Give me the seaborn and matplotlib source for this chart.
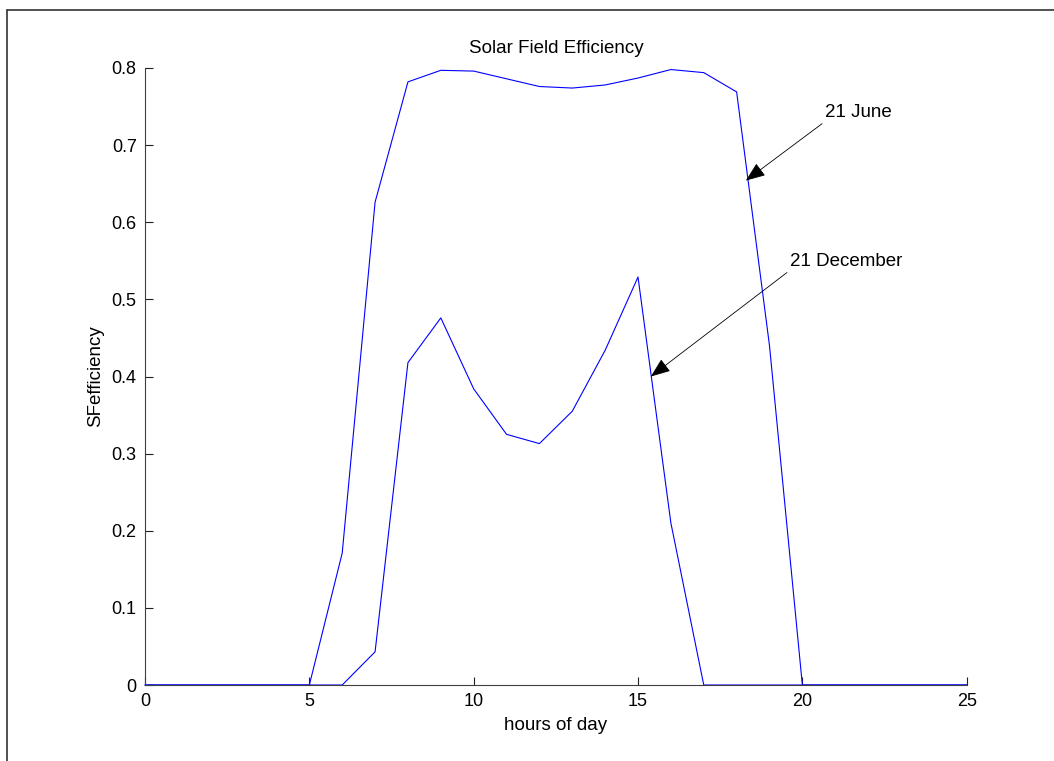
import matplotlib
matplotlib.use("Agg")
import matplotlib.pyplot as plt
from matplotlib.lines import Line2D
import seaborn as sns
import pandas as pd

hours = list(range(0, 26))
june = [0, 0, 0, 0, 0, 0, 0.171, 0.626, 0.782, 0.797, 0.796, 0.786, 0.776, 0.774,
        0.778, 0.787, 0.798, 0.794, 0.769, 0.44, 0, 0, 0, 0, 0, 0]
december = [0, 0, 0, 0, 0, 0, 0, 0.043, 0.418, 0.476, 0.384, 0.325, 0.313, 0.355,
            0.434, 0.529, 0.21, 0, 0, 0, 0, 0, 0, 0, 0, 0]
xticks = [0, 5, 10, 15, 20, 25]
yticks = [0, 0.1, 0.2, 0.3, 0.4, 0.5, 0.6, 0.7, 0.8]
ytick_labels = ["0", "0.1", "0.2", "0.3", "0.4", "0.5", "0.6", "0.7", "0.8"]

sns.set_style("white")
plt.rcParams["font.family"] = ["Liberation Sans", "DejaVu Sans"]
plt.rcParams["text.color"] = "black"
plt.rcParams["axes.labelcolor"] = "black"
plt.rcParams["xtick.color"] = "black"
plt.rcParams["ytick.color"] = "black"

fig = plt.figure(figsize=(10.54, 7.61), dpi=100)
ax = fig.add_axes([145 / 1054, 1 - 685 / 761, (966.7 - 145) / 1054, (685 - 68) / 761])

df = pd.DataFrame({"hour": hours + hours,
                   "eff": june + december,
                   "day": ["21 June"] * len(hours) + ["21 December"] * len(hours)})
sns.lineplot(data=df, x="hour", y="eff", units="day", estimator=None,
             color="#0000ff", linewidth=0.8, ax=ax, legend=False)
for ln in ax.lines:
    ln.set_clip_on(False)

ax.set_xlim(0, 25)
ax.set_ylim(0, 0.8)
ax.set_xticks(xticks)
ax.set_xticklabels([str(t) for t in xticks])
ax.set_yticks(yticks)
ax.set_yticklabels(ytick_labels)
for s in ["top", "right"]:
    ax.spines[s].set_visible(False)
for s in ["left", "bottom"]:
    ax.spines[s].set_color("#404040")
    ax.spines[s].set_linewidth(0.8)
ax.tick_params(direction="in", length=6, width=0.8, color="#202020",
               labelsize=13, pad=6, left=True, bottom=True, labelcolor="black")
ax.set_title("Solar Field Efficiency", fontsize=13.5, pad=11, color="black")
ax.set_xlabel("hours of day", fontsize=13.5, labelpad=5)
ax.set_ylabel("SFefficiency", fontsize=13.5, labelpad=5)

arrow_kw = dict(arrowstyle="-|>,head_length=0.9,head_width=0.35", color="black",
                lw=0.6, shrinkA=0, shrinkB=0)
ax.annotate("21 June", xy=(18.28, 0.654), xytext=(20.70, 0.742),
            fontsize=13.5, ha="left", va="center", color="black",
            arrowprops=dict(**arrow_kw, relpos=(0.0, 0.0)))
ax.annotate("21 December", xy=(15.39, 0.400), xytext=(19.63, 0.549),
            fontsize=13.5, ha="left", va="center", color="black",
            arrowprops=dict(**arrow_kw, relpos=(0.0, 0.0)))

# window frame edges
fig.add_artist(Line2D([7 / 1054, 7 / 1054], [0, 1 - 10 / 761], color="#333333", lw=1.2))
fig.add_artist(Line2D([7 / 1054, 1], [1 - 10 / 761, 1 - 10 / 761], color="#333333", lw=1.2))

fig.savefig("out.png", dpi=100)
